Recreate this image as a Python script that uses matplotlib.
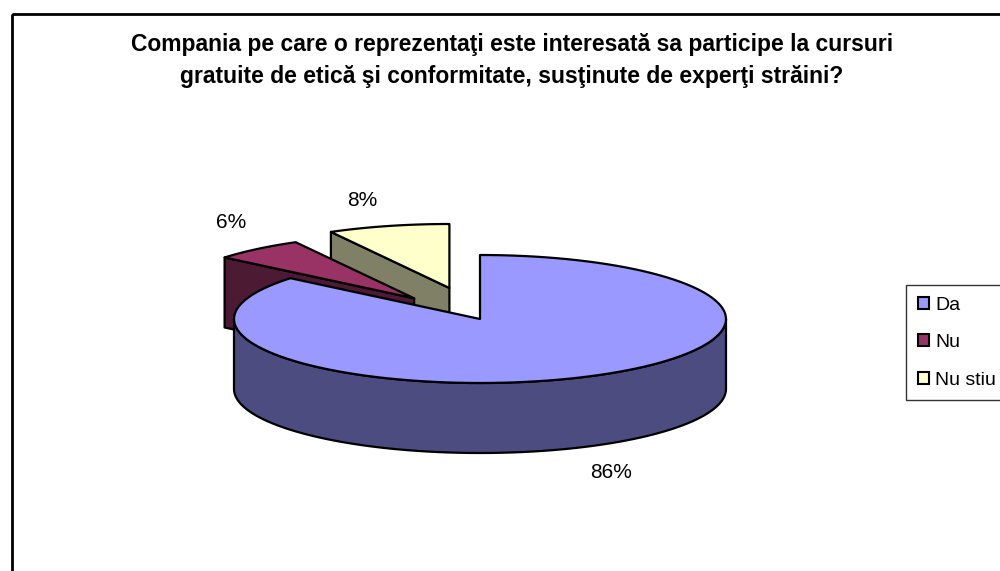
import matplotlib
matplotlib.use("Agg")
import matplotlib.pyplot as plt
import numpy as np
from matplotlib.patches import Polygon, Rectangle, Patch

plt.rcParams['font.family'] = ['Liberation Sans', 'DejaVu Sans']

title = ("Compania pe care o reprezentaţi este interesată sa participe la cursuri\n"
         "gratuite de etică şi conformitate, susţinute de experţi străini?")
labels = ["Da", "Nu", "Nu stiu"]
values = [86, 6, 8]
pct_labels = ["86%", "6%", "8%"]
top_colors = ["#9999FF", "#993366", "#FFFFCC"]
side_colors = ["#4C4C80", "#4D1A33", "#808066"]
explode = [0.0, 0.42, 0.5]

# pie geometry in pixels
cx, cy = 480, 319
rx, ry = 246, 64
depth = 70

fig = plt.figure(figsize=(10, 5.71), dpi=100)
ax = fig.add_axes([0, 0, 1, 1])
ax.set_xlim(0, 1000)
ax.set_ylim(571, 0)
ax.axis('off')


def pt(t, ox, oy, z=0):
    r = np.radians(t)
    return (ox + rx * np.cos(r), oy - ry * np.sin(r) + z)


def arc(t_from, t_to, ox, oy, z=0, n=120):
    ts = np.linspace(t_from, t_to, n)
    return [pt(t, ox, oy, z) for t in ts]


total = sum(values)
slices = []
start = 90.0
for i, v in enumerate(values):
    t1 = start
    t2 = start - 360.0 * v / total
    start = t2
    mid = (t1 + t2) / 2
    m = np.radians(mid)
    ox = cx + explode[i] * rx * np.cos(m)
    oy = cy - explode[i] * ry * np.sin(m)
    slices.append((i, t1, t2, mid, ox, oy))

# back slices first
order = sorted(slices, key=lambda s: -np.sin(np.radians(s[3])))
kw = dict(edgecolor='black', linewidth=1.6, joinstyle='round')
for i, t1, t2, mid, ox, oy in order:
    # radial walls
    if np.cos(np.radians(t1)) < -1e-6:
        a = pt(t1, ox, oy)
        wall = [(ox, oy), a, (a[0], a[1] + depth), (ox, oy + depth)]
        ax.add_patch(Polygon(wall, facecolor=side_colors[i], **kw))
    if np.cos(np.radians(t2)) > 1e-6:
        a = pt(t2, ox, oy)
        wall = [(ox, oy), a, (a[0], a[1] + depth), (ox, oy + depth)]
        ax.add_patch(Polygon(wall, facecolor=side_colors[i], **kw))
    # outer wall, front half only
    for k in range(-2, 2):
        lo = max(t2, 180 + 360 * k)
        hi = min(t1, 360 + 360 * k)
        if hi > lo:
            up = arc(lo, hi, ox, oy)
            down = arc(hi, lo, ox, oy, depth)
            ax.add_patch(Polygon(up + down, facecolor=side_colors[i], **kw))
    # top face
    top = [(ox, oy)] + arc(t1, t2, ox, oy)
    ax.add_patch(Polygon(top, facecolor=top_colors[i], **kw))
    # percentage label, a bit outside the rim
    m = np.radians(mid)
    ex, ey = pt(mid, ox, oy, depth if np.sin(m) < 0 else 0)
    lx = ex + 26 * np.sign(np.cos(m))
    ly = ey - 26 * np.sign(np.sin(m))
    ax.text(lx, ly, pct_labels[i], fontsize=15, ha='center', va='center')

ax.text(512, 60, title, fontsize=16.5, fontweight='bold', ha='center', va='center',
        linespacing=1.5)

ax.add_patch(Rectangle((12, 14), 1100, 700, fill=False, edgecolor='black',
                       linewidth=2))

handles = [Patch(facecolor=c, edgecolor='black', linewidth=1.5) for c in top_colors]
leg = fig.legend(handles, labels, loc='upper left', bbox_to_anchor=(906 / 1000, 1 - 285 / 571),
                 fontsize=14, frameon=True, fancybox=False, handlelength=0.6,
                 handleheight=0.6, handletextpad=0.3, labelspacing=1.05,
                 borderpad=0.6, borderaxespad=0)
leg.get_frame().set_edgecolor('black')
leg.get_frame().set_linewidth(1)

fig.savefig("out.png", dpi=100)
